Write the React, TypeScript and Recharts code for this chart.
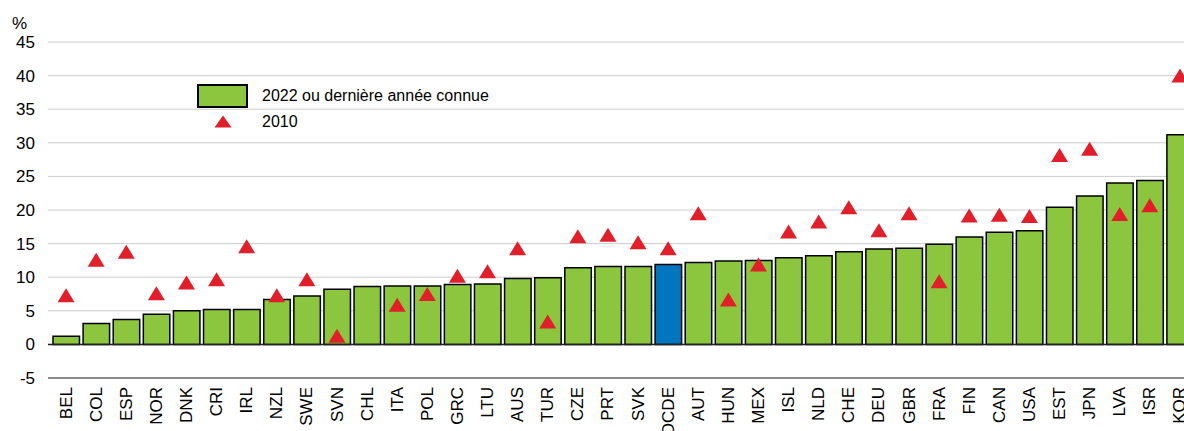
import React from 'react';
import { ComposedChart, Bar, Line, XAxis, YAxis, CartesianGrid, ReferenceLine, Cell } from 'recharts';

const categories = ['BEL','COL','ESP','NOR','DNK','CRI','IRL','NZL','SWE','SVN','CHL','ITA','POL','GRC','LTU','AUS','TUR','CZE','PRT','SVK','OCDE','AUT','HUN','MEX','ISL','NLD','CHE','DEU','GBR','FRA','FIN','CAN','USA','EST','JPN','LVA','ISR','KOR'];
const values2022 = [1.2,3.1,3.7,4.5,5.0,5.2,5.2,6.7,7.2,8.2,8.6,8.7,8.7,8.9,9.0,9.8,9.9,11.4,11.6,11.6,11.9,12.2,12.4,12.5,12.9,13.2,13.8,14.2,14.3,14.9,16.0,16.7,16.9,20.4,22.1,24.0,24.4,31.2];
const values2010 = [7.3,12.6,13.8,7.6,9.2,9.7,14.6,7.3,9.7,1.3,null,5.9,7.5,10.2,10.9,14.3,3.4,16.1,16.3,15.2,14.3,19.5,6.7,11.9,16.8,18.3,20.4,17.0,19.5,9.4,19.2,19.3,19.1,28.2,29.1,19.4,20.7,40.0];
const yTicks = [-5,0,5,10,15,20,25,30,35,40,45];
const seriesNames = ['2022 ou dernière année connue', '2010'];

const GREEN = '#8CC63F';
const BLUE = '#0076BE';
const RED = '#E01F2A';
const FONT = 'Arial, "Liberation Sans", sans-serif';

const data = categories.map((c, i) => ({ cat: c, v2022: values2022[i], v2010: values2010[i] }));

const Triangle = (props: any) => {
  const { cx, cy, index } = props;
  if (cx == null || cy == null || props.value == null) return <g key={`t${index}`} />;
  const w = 17, h = 14;
  return <path key={`t${index}`} d={`M${cx - w / 2},${cy + h / 2} L${cx + w / 2},${cy + h / 2} L${cx},${cy - h / 2} Z`} fill={RED} />;
};

const XTick = (props: any) => {
  const { x, y, payload } = props;
  return (
    <text transform={`translate(${x},${y + 1}) rotate(-90)`} textAnchor="end" dominantBaseline="central" fontSize={17} fontFamily={FONT} fill="#000">
      {payload.value}
    </text>
  );
};

const LegendBox = () => (
  <div style={{ fontFamily: FONT, fontSize: 16, color: '#000', position: 'absolute', left: 197, top: 84, width: 320, height: 50 }}>
    <div style={{ position: 'absolute', left: 0, top: 0, width: 47, height: 20, background: GREEN, border: '2px solid #000' }} />
    <div style={{ position: 'absolute', left: 65, top: 3, lineHeight: '18px', whiteSpace: 'nowrap' }}>{seriesNames[0]}</div>
    <svg style={{ position: 'absolute', left: 17, top: 31 }} width={18} height={13}>
      <path d="M0.5,12.5 L17.5,12.5 L9,0.5 Z" fill={RED} />
    </svg>
    <div style={{ position: 'absolute', left: 65, top: 29, lineHeight: '18px' }}>{seriesNames[1]}</div>
  </div>
);

export default function App() {
  return (
    <div style={{ position: 'absolute', left: 0, top: 0, width: 1184, height: 431, overflow: 'hidden', background: '#fff' }}>
      <ComposedChart width={1200} height={431} data={data} margin={{ top: 42, right: 5, bottom: 0, left: 0 }} barSize={26.5}>
        <CartesianGrid vertical={false} stroke="#cccccc" strokeWidth={1} />
        <XAxis dataKey="cat" interval={0} tickLine={false} axisLine={{ stroke: '#333', strokeWidth: 1.2 }} height={53} tick={<XTick />} padding={{ left: 3, right: 0 }} />
        <YAxis domain={[-5, 45]} ticks={yTicks} width={48} tickLine={false} axisLine={false} tickMargin={7} tick={{ fontSize: 17, fontFamily: FONT, fill: '#000' }} interval={0} />
        <ReferenceLine y={0} stroke="#222" strokeWidth={1.5} />
        <Bar dataKey="v2022" name={seriesNames[0]} fill={GREEN} stroke="#000" strokeWidth={1.5} isAnimationActive={false}>
          {data.map((d, i) => (
            <Cell key={`c${i}`} fill={d.cat === 'OCDE' ? BLUE : GREEN} />
          ))}
        </Bar>
        <Line dataKey="v2010" name={seriesNames[1]} stroke="none" dot={Triangle} activeDot={false} isAnimationActive={false} />
      </ComposedChart>
      <div style={{ position: 'absolute', left: 12, top: 14, fontFamily: FONT, fontSize: 17, lineHeight: '20px', color: '#000' }}>%</div>
      <LegendBox />
    </div>
  );
}
